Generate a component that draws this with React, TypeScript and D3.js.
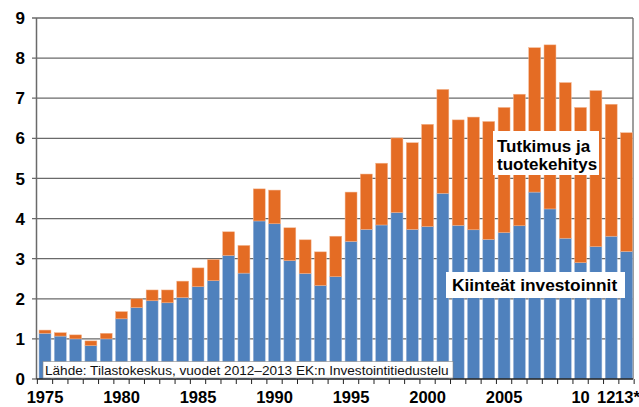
import React from "react";
import * as d3 from "d3";

const years: number[] = d3.range(1975, 2014);
const tickLabels: { year: number; label: string }[] = [
  { year: 1975, label: "1975" },
  { year: 1980, label: "1980" },
  { year: 1985, label: "1985" },
  { year: 1990, label: "1990" },
  { year: 1995, label: "1995" },
  { year: 2000, label: "2000" },
  { year: 2005, label: "2005" },
  { year: 2010, label: "10" },
  { year: 2012, label: "12" },
  { year: 2013, label: "13*" },
];
// Kiinteät investoinnit (blue)
const fixedInv: number[] = [
  1.14, 1.07, 1.0, 0.83, 1.0, 1.5, 1.78, 1.95, 1.9, 2.03, 2.3, 2.45, 3.08, 2.64,
  3.94, 3.87, 2.95, 2.63, 2.33, 2.55, 3.43, 3.73, 3.84, 4.15, 3.73, 3.8, 4.63,
  3.83, 3.72, 3.48, 3.65, 3.82, 4.66, 4.24, 3.51, 2.9, 3.3, 3.56, 3.18,
];
// Totals (top of stacked bar)
const totals: number[] = [
  1.22, 1.155, 1.1, 0.95, 1.14, 1.68, 2.0, 2.22, 2.22, 2.44, 2.77, 2.98, 3.67,
  3.33, 4.74, 4.71, 3.77, 3.47, 3.17, 3.56, 4.66, 5.11, 5.38, 6.01, 5.89, 6.35,
  7.22, 6.46, 6.53, 6.42, 6.77, 7.1, 8.26, 8.33, 7.39, 6.77, 7.19, 6.85, 6.14,
];
const yTicks: number[] = d3.range(0, 10);

const W = 639;
const H = 407;
const left = 36.5;
const right = 633;
const top = 18;
const bottom = 379;

export default function App() {
  const x = d3
    .scaleBand<number>()
    .domain(years)
    .range([37.5, 634])
    .paddingInner(0.22)
    .paddingOuter(0.1);
  const y = d3.scaleLinear().domain([0, 9]).range([bottom, top]);
  const step = x.step();
  const bw = x.bandwidth();
  const font = "'Liberation Sans', Arial, sans-serif";
  const blue = "#4f81bd";
  const orange = "#e46c24";

  const tickXs = years.map((yr) => (x(yr) as number) - (step - bw) / 2);
  tickXs.push((x(2013) as number) + bw + (step - bw) / 2);

  return (
    <svg
      width={W}
      height={H}
      style={{ position: "absolute", left: 0, top: 0 }}
      fontFamily={font}
    >
      <rect width={W} height={H} fill="#fff" />
      {yTicks.map((t) => (
        <g key={t}>
          <line
            x1={32}
            x2={t === 0 ? left : right}
            y1={y(t)}
            y2={y(t)}
            stroke="#6a6a6a"
            strokeWidth={1.3}
          />
          <text
            x={25}
            y={y(t)}
            dy="0.36em"
            textAnchor="end"
            fontSize={17}
            fontWeight="bold"
          >
            {t}
          </text>
        </g>
      ))}
      <line x1={right} x2={right} y1={top} y2={bottom} stroke="#6a6a6a" strokeWidth={1.3} />
      {years.map((yr, i) => (
        <g key={yr}>
          <rect
            x={x(yr)}
            y={y(fixedInv[i])}
            width={bw}
            height={y(0) - y(fixedInv[i])}
            fill={blue}
            stroke="#9fb8da"
            strokeWidth={0.5}
          />
          <rect
            x={x(yr)}
            y={y(totals[i])}
            width={bw}
            height={y(fixedInv[i]) - y(totals[i])}
            fill={orange}
            stroke="#f3b58f"
            strokeWidth={0.5}
          />
        </g>
      ))}
      <line x1={left} x2={left} y1={top} y2={bottom} stroke="#6a6a6a" strokeWidth={1.5} />
      <line x1={left} x2={right} y1={bottom} y2={bottom} stroke="#222" strokeWidth={1.5} />
      {tickXs.map((tx, i) => (
        <line key={i} x1={tx} x2={tx} y1={bottom} y2={bottom + 5} stroke="#222" strokeWidth={1} />
      ))}
      {tickLabels.map((t) => (
        <text
          key={t.year}
          x={(x(t.year) as number) + bw / 2 + (t.year === 2012 ? -5 : t.year === 2013 ? 1 : 0)}
          y={403}
          textAnchor="middle"
          fontSize={16.5}
          fontWeight="bold"
        >
          {t.label}
        </text>
      ))}
      <rect x={43} y={361.5} width={410} height={16.5} fill="#fff" stroke="#888" strokeWidth={0.6} />
      <text x={45} y={375} fontSize={13.6} fill="#111">
        Lähde: Tilastokeskus, vuodet 2012–2013 EK:n Investointitiedustelu
      </text>
      <rect x={493} y={131} width={106} height={44} fill="#fff" />
      <text x={497} y={152} fontSize={17} fontWeight="bold">
        Tutkimus ja
      </text>
      <text x={497} y={170} fontSize={17} fontWeight="bold">
        tuotekehitys
      </text>
      <rect x={446} y={272} width={179} height={26} fill="#fff" />
      <text x={452} y={291} fontSize={17.3} fontWeight="bold">
        Kiinteät investoinnit
      </text>
    </svg>
  );
}
